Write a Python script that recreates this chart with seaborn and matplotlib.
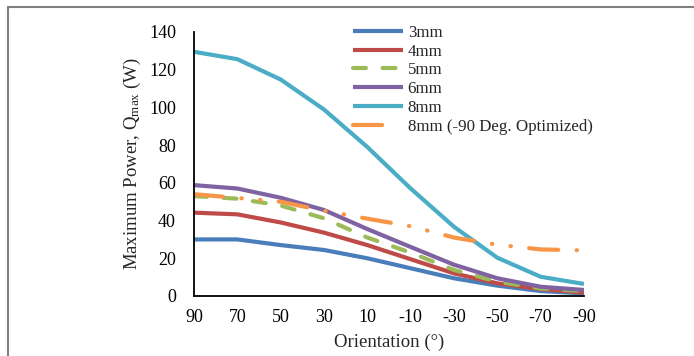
import matplotlib
matplotlib.use("Agg")
import matplotlib.pyplot as plt
from matplotlib.lines import Line2D
import seaborn as sns
import pandas as pd

orientation = [90, 70, 50, 30, 10, -10, -30, -50, -70, -90]
tick_labels = ["90", "70", "50", "30", "10", "-10", "-30", "-50", "-70", "-90"]
s3mm = [30, 30, 27, 24.4, 20, 14.7, 9.4, 5.5, 2.6, 1.4]
s4mm = [44.2, 43.3, 39, 33.6, 27, 19.5, 12, 6.7, 3.7, 1.8]
s5mm = [53, 51.6, 48, 41.2, 31, 23, 13.8, 7.6, 4, 2.6]
s6mm = [58.8, 57, 52.1, 45.6, 35.5, 26, 16.6, 9.4, 4.9, 3.2]
s8mm = [129.5, 125.6, 114.8, 98.9, 79, 57, 36.7, 20.3, 10.2, 6.4]
s8opt = [54, 52, 50, 45.2, 41, 37, 31, 27.2, 24.7, 24.2]

names = ["3mm", "4mm", "5mm", "6mm", "8mm", "8mm (-90 Deg. Optimized)"]
series = [s3mm, s4mm, s5mm, s6mm, s8mm, s8opt]
colors = ["#4A7EBB", "#BE4B48", "#9BBB59", "#7F62A1", "#4BACC6", "#F79646"]
styles = ["-", "-", (0, (3.1, 4.0)), "-", "-", (0, (7, 4.4, 0.1, 4.4, 0.1, 4.4))]
legend_styles = ["-", "-", (0, (3.1, 4.0)), "-", "-", (0, (7, 20))]

df = pd.DataFrame({
    "Orientation": orientation * len(names),
    "Power": [v for s in series for v in s],
    "Series": [n for n in names for _ in orientation],
})

sns.set_style("white")
plt.rcParams["font.family"] = ["Liberation Serif", "DejaVu Serif"]
plt.rcParams["mathtext.fontset"] = "custom"
plt.rcParams["mathtext.rm"] = "Liberation Serif"
plt.rcParams["mathtext.it"] = "Liberation Serif:italic"

fig = plt.figure(figsize=(6.94, 3.56), dpi=100)
ax = fig.add_axes([194 / 694, 1 - 296 / 356, (584 - 194) / 694, (296 - 32) / 356])

for name, col, ls in zip(names, colors, styles):
    sub = df[df["Series"] == name]
    sns.lineplot(data=sub, x="Orientation", y="Power", ax=ax, color=col,
                 linewidth=3, label=name, sort=False)
    line = ax.get_lines()[-1]
    line.set_linestyle(ls)
    line.set_dash_capstyle("round")
    line.set_solid_capstyle("butt")

ax.set_xlim(90, -90)
ax.set_ylim(0, 140)
ax.set_xticks(orientation)
ax.set_xticklabels(tick_labels)
ax.set_yticks(range(0, 141, 20))
ax.tick_params(axis="both", direction="in", length=4, width=1.2, color="black",
               labelsize=13, colors="black")
ax.tick_params(axis="x", pad=9)
ax.tick_params(axis="y", pad=13)
for sp in ["top", "right"]:
    ax.spines[sp].set_visible(False)
for sp in ["left", "bottom"]:
    ax.spines[sp].set_color("black")
    ax.spines[sp].set_linewidth(1.3)

ax.set_xlabel("Orientation (°)", fontsize=13.5, labelpad=6)
ax.set_ylabel(r"Maximum Power, Q$_{\mathregular{max}}$ (W)", fontsize=13.5, labelpad=4)

leg = ax.legend(loc="upper left", bbox_to_anchor=(0.385, 1.06), frameon=False,
                fontsize=12.2, handlelength=2.95, handletextpad=0.3,
                labelspacing=0.17, borderpad=0.0)
for h, ls in zip(leg.get_lines(), legend_styles):
    h.set_linestyle(ls)
    h.set_dash_capstyle("round")
    h.set_linewidth(3)

# figure border (top and left visible)
fig.add_artist(Line2D([8 / 694, 1], [1 - 7 / 356, 1 - 7 / 356], color="#7f7f7f",
                      linewidth=1.5, transform=fig.transFigure))
fig.add_artist(Line2D([8 / 694, 8 / 694], [0, 1 - 7 / 356], color="#7f7f7f",
                      linewidth=1.5, transform=fig.transFigure))

fig.savefig("out.png", dpi=100)
